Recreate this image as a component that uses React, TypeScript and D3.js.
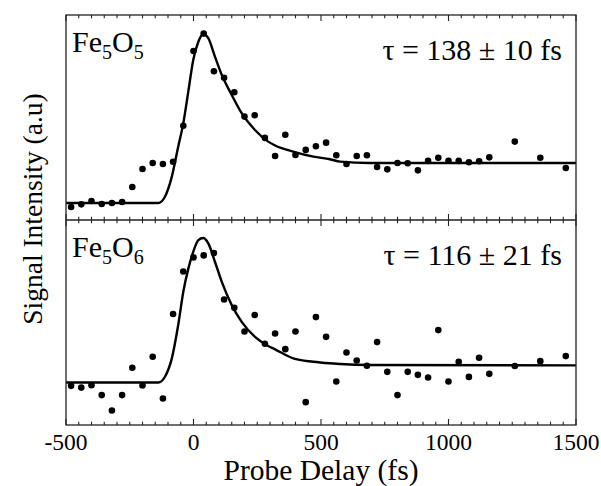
import React from "react";
import * as d3 from "d3";

// Probe delay (fs) of each measured point
const delays = [
  -480, -440, -400, -360, -320, -280, -240, -200, -160, -120, -80, -40, 0, 40, 80, 120, 160, 200, 240,
  280, 320, 360, 400, 440, 480, 520, 560, 600, 640, 680, 720, 760, 800, 840, 880, 920, 960, 1000, 1040,
  1080, 1120, 1160, 1260, 1360, 1460,
];

// Fe5O5 signal (normalized to fit peak)
const fe5o5 = [
  -0.024, -0.008, 0.012, -0.006, 0.0, 0.006, 0.095, 0.201, 0.237, 0.231, 0.244, 0.457, 0.899, 1.002, 0.779,
  0.741, 0.655, 0.511, 0.519, 0.385, 0.278, 0.404, 0.284, 0.314, 0.336, 0.357, 0.282, 0.231, 0.278, 0.282,
  0.213, 0.199, 0.237, 0.235, 0.193, 0.249, 0.268, 0.25, 0.249, 0.241, 0.247, 0.27, 0.363, 0.268, 0.207,
];

// Fe5O6 signal (normalized to fit peak)
const fe5o6 = [
  -0.023, -0.035, -0.018, -0.087, -0.194, -0.087, 0.102, -0.021, 0.178, -0.111, 0.474, 0.769, 0.866, 0.88,
  0.896, 0.575, 0.517, 0.353, 0.467, 0.268, 0.339, 0.231, 0.353, -0.136, 0.453, 0.316, 0.007, 0.208, 0.152,
  0.116, 0.28, 0.074, -0.087, 0.074, 0.053, 0.035, 0.363, 0.007, 0.143, 0.039, 0.171, 0.06, 0.114, 0.148,
  0.183,
];

// Fit curves
const fit5Delay = [-500, -171, -138, -112, -85, -60, -40, -20, -1, 19, 38, 58, 84, 111, 150, 189, 241, 293, 320, 391, 470, 535, 575, 692, 1500];
const fit5Value = [0, 0, 0, 0.037, 0.156, 0.333, 0.471, 0.663, 0.846, 0.954, 1.0, 0.975, 0.866, 0.757, 0.639, 0.531, 0.432, 0.363, 0.34, 0.304, 0.274, 0.259, 0.245, 0.237, 0.237];

const fit6Delay = [-500, -171, -138, -112, -85, -60, -40, -20, -1, 19, 38, 58, 84, 111, 150, 189, 241, 293, 320, 391, 470, 535, 575, 692, 1500];
const fit6Value = [0, 0, 0, 0.04, 0.167, 0.398, 0.628, 0.79, 0.905, 0.986, 1.0, 0.963, 0.836, 0.697, 0.536, 0.42, 0.316, 0.253, 0.23, 0.167, 0.144, 0.133, 0.128, 0.121, 0.119];

const xTicks = [-500, 0, 500, 1000, 1500];
const panelNames = ["5", "6"];
const tauLabels = ["τ = 138 ± 10 fs", "τ = 116 ± 21 fs"];

const W = 601;
const H = 486;
const left = 66;
const right = 576;
const panelTops = [15, 220];
const panelBottoms = [220, 425];
const yDomains: [number, number][] = [
  [-0.1006, 1.112],
  [-0.294, 1.125],
];

const FONT = "'Liberation Serif', 'Times New Roman', serif";
const INK = "#000";

export default function App() {
  const x = d3.scaleLinear().domain([-500, 1500]).range([left, right]);
  const minorTicks = d3.range(-500, 1501, 50);
  const datasets = [fe5o5, fe5o6];
  const fits = [
    fit5Delay.map((d, i) => [d, fit5Value[i]] as [number, number]),
    fit6Delay.map((d, i) => [d, fit6Value[i]] as [number, number]),
  ];

  const tickMarks = (yLine: number, dirs: number[]) =>
    minorTicks.map((t) => {
      const major = t % 500 === 0;
      const len = major ? 6 : 3.3;
      const lines = dirs.map((dir, k) => (
        <line key={k} x1={x(t)} x2={x(t)} y1={yLine} y2={yLine + dir * len} stroke="#222" strokeWidth={1.1} />
      ));
      return <g key={`${yLine}-${t}`}>{lines}</g>;
    });

  return (
    <svg width={W} height={H} style={{ position: "absolute", left: 0, top: 0, background: "#fff" }}>
      {panelTops.map((top, p) => {
        const bottom = panelBottoms[p];
        const y = d3.scaleLinear().domain(yDomains[p]).range([bottom, top]);
        const line = d3
          .line<[number, number]>()
          .x((d) => x(d[0]))
          .y((d) => y(d[1]))
          .curve(d3.curveMonotoneX);
        return (
          <g key={p}>
            <path d={line(fits[p]) || ""} fill="none" stroke={INK} strokeWidth={2.4} />
            {delays.map((d, i) => (
              <circle key={i} cx={x(d)} cy={y(datasets[p][i])} r={3.3} fill={INK} />
            ))}
            <text x={72} y={top + 36.7} fontFamily={FONT} fontSize={30} fill={INK}>
              Fe
              <tspan fontSize={20} dy={7}>5</tspan>
              <tspan dy={-7}>O</tspan>
              <tspan fontSize={20} dy={7}>{panelNames[p]}</tspan>
            </text>
            <text x={562} y={top + 45} fontFamily={FONT} fontSize={30} fill={INK} textAnchor="end">
              {tauLabels[p]}
            </text>
          </g>
        );
      })}
      {/* frame */}
      <rect x={left} y={panelTops[0]} width={right - left} height={panelBottoms[1] - panelTops[0]} fill="none" stroke="#222" strokeWidth={1.3} />
      <line x1={left} x2={right} y1={panelBottoms[0]} y2={panelBottoms[0]} stroke="#222" strokeWidth={1.3} />
      {tickMarks(panelTops[0], [1])}
      {tickMarks(panelBottoms[0], [1, -1])}
      {tickMarks(panelBottoms[1], [-1])}
      {xTicks.map((t) => (
        <text key={t} x={x(t)} y={449.5} fontFamily={FONT} fontSize={23.5} fill={INK} textAnchor="middle">
          {t}
        </text>
      ))}
      <text x={(left + right) / 2} y={480} fontFamily={FONT} fontSize={29.5} fill={INK} textAnchor="middle">
        Probe Delay (fs)
      </text>
      <text
        transform={`translate(41.5, 209) rotate(-90)`}
        fontFamily={FONT}
        fontSize={27.5}
        fill={INK}
        textAnchor="middle"
      >
        Signal Intensity (a.u)
      </text>
    </svg>
  );
}
